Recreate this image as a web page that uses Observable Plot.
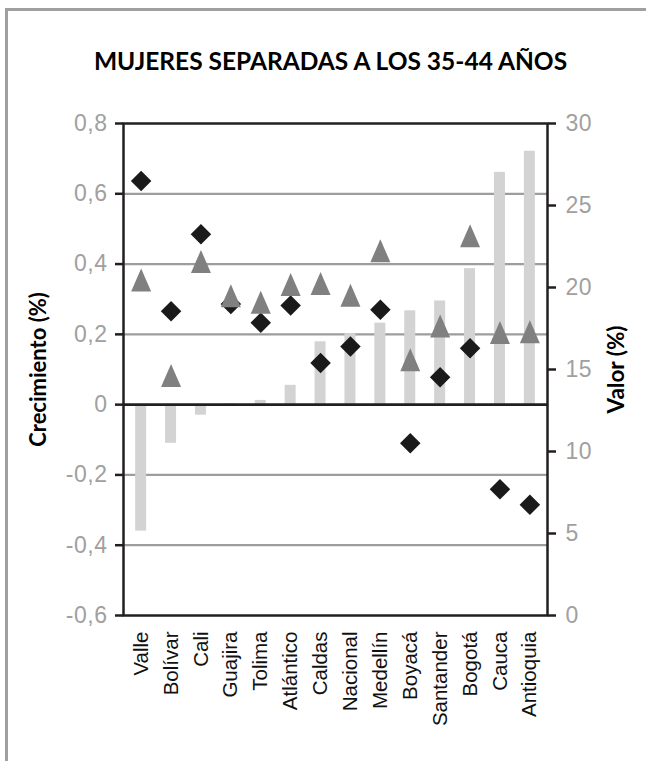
<!DOCTYPE html>
<html>
<head>
<meta charset="utf-8">
<script src="https://cdn.jsdelivr.net/npm/d3@7"></script>
<script src="https://cdn.jsdelivr.net/npm/@observablehq/plot@0.6"></script>
<style>
  html, body { margin: 0; padding: 0; background: #fff; }
  #chart { position: relative; width: 646px; height: 761px; overflow: hidden; }
  #chart .edge-left { position: absolute; left: 5px; top: 8px; width: 2.5px; height: 753px; background: #a0a0a0; }
  #chart .edge-top { position: absolute; left: 5px; top: 8px; width: 641px; height: 2.5px; background: #a0a0a0; }
  #chart svg { position: absolute; left: 0; top: 0; }
</style>
</head>
<body>
<div id="chart"><div class="edge-left"></div><div class="edge-top"></div></div>
<script>
// Regiones, ordenadas por crecimiento
const categories = ["Valle", "Bolívar", "Cali", "Guajira", "Tolima", "Atlántico", "Caldas", "Nacional", "Medellín", "Boyacá", "Santander", "Bogotá", "Cauca", "Antioquia"];
// Crecimiento (%), eje izquierdo (barras)
const crecimiento = [-0.36, -0.11, -0.03, 0.002, 0.012, 0.055, 0.179, 0.202, 0.232, 0.267, 0.295, 0.387, 0.661, 0.721];
// Valor (%), eje derecho: rombos negros y triángulos grises
const valorRombo = [26.5, 18.55, 23.24, 19.0, 17.85, 18.9, 15.4, 16.4, 18.64, 10.5, 14.52, 16.3, 7.7, 6.75];
const valorTriangulo = [20.45, 14.63, 21.59, 19.5, 19.1, 20.19, 20.25, 19.53, 22.24, 15.6, 17.66, 23.16, 17.25, 17.3];

const ticksIzq = [-0.6, -0.4, -0.2, 0, 0.2, 0.4, 0.6, 0.8];
const lineasGuia = [-0.4, -0.2, 0.2, 0.4, 0.6];
const ticksDer = [0, 5, 10, 15, 20, 25, 30];

const titulo = "MUJERES SEPARADAS A LOS 35-44 AÑOS";
const tituloIzq = "Crecimiento (%)";
const tituloDer = "Valor (%)";

// The right axis (0–30) shares the plot's y scale (-0,6–0,8)
const izqMin = -0.6, izqMax = 0.8, derMax = 30;
const aIzq = v => izqMin + v * (izqMax - izqMin) / derMax;
const aDer = g => (g - izqMin) * derMax / (izqMax - izqMin);

const filas = categories.map((c, i) => ({
  region: c,
  crecimiento: crecimiento[i],
  rombo: aIzq(valorRombo[i]),
  triangulo: aIzq(valorTriangulo[i])
}));

// Markers centred on their bounding boxes
const triangulo = {
  draw(ctx, size) {
    const w = Math.sqrt(size), h = w * 1.15;
    ctx.moveTo(0, -h / 2);
    ctx.lineTo(w / 2, h / 2);
    ctx.lineTo(-w / 2, h / 2);
    ctx.closePath();
  }
};
const rombo = {
  draw(ctx, size) {
    const a = Math.sqrt(size) / 2;
    ctx.moveTo(0, -a);
    ctx.lineTo(a, 0);
    ctx.lineTo(0, a);
    ctx.lineTo(-a, 0);
    ctx.closePath();
  }
};

const fmtIzq = d => d === 0 ? "0" : d.toFixed(1).replace(".", ",");
const negro = "#231f20";
const grisTexto = "#a0a0a0";

const chart = Plot.plot({
  width: 646,
  height: 761,
  marginTop: 123,
  marginBottom: 146,
  marginLeft: 123,
  marginRight: 99,
  style: {fontFamily: "'Liberation Sans', Arial, sans-serif", fontSize: "20px", background: "transparent", overflow: "visible"},
  x: {type: "band", domain: categories, paddingInner: 0.632, paddingOuter: 0.406, round: false, axis: null},
  y: {domain: [izqMin, izqMax], axis: null},
  marks: [
    Plot.ruleY(lineasGuia, {stroke: "#9d9d9d", strokeWidth: 2.2}),
    Plot.barY(filas, {x: "region", y: "crecimiento", fill: "#d3d3d3"}),
    Plot.ruleY([0], {stroke: negro, strokeWidth: 2.6}),
    Plot.frame({stroke: negro, strokeWidth: 2.5}),
    // left axis
    Plot.axisY(ticksIzq, {anchor: "left", tickSize: 8, tickFormat: () => "", stroke: negro, strokeWidth: 2.5, label: null}),
    Plot.axisY(ticksIzq, {anchor: "left", tickSize: 0, tickPadding: 16, tickFormat: fmtIzq, fill: grisTexto, fontSize: 23, label: null}),
    // right axis
    Plot.axisY(ticksDer.map(aIzq), {anchor: "right", tickSize: 8, tickFormat: () => "", stroke: negro, strokeWidth: 2.5, label: null}),
    Plot.axisY(ticksDer.map(aIzq), {anchor: "right", tickSize: 0, tickPadding: 18, tickFormat: d => String(Math.round(aDer(d))), fill: grisTexto, fontSize: 23, label: null}),
    // category labels
    Plot.axisX({anchor: "bottom", tickSize: 0, tickPadding: 16, tickRotate: -90, fontSize: 20.5, fill: "#111", label: null}),
    Plot.dot(filas, {x: "region", y: "rombo", symbol: rombo, r: 20.5 / Math.sqrt(Math.PI), fill: "#1a1a1a", stroke: "none"}),
    Plot.dot(filas, {x: "region", y: "triangulo", symbol: triangulo, r: 20 / Math.sqrt(Math.PI), fill: "#808080", stroke: "none"}),
    // titles
    Plot.text([titulo], {frameAnchor: "top", dx: -5, dy: -61, lineAnchor: "middle", textAnchor: "middle", fontFamily: "Lato, sans-serif", fontWeight: "bold", fontSize: 24.5, fill: "#000"}),
    Plot.text([tituloIzq], {frameAnchor: "left", dx: -85, rotate: -90, textAnchor: "middle", lineAnchor: "middle", fontFamily: "Lato, sans-serif", fontWeight: "bold", fontSize: 22, fill: "#000"}),
    Plot.text([tituloDer], {frameAnchor: "right", dx: 69, rotate: -90, textAnchor: "middle", lineAnchor: "middle", fontFamily: "Lato, sans-serif", fontWeight: "bold", fontSize: 22.5, fill: "#000"})
  ]
});
// slightly wider spacing for the numeric tick labels on both value axes
d3.select(chart).selectAll('g[aria-label="y-axis tick label"] text').attr("letter-spacing", "0.5px");
document.getElementById("chart").appendChild(chart);
</script>
</body>
</html>
